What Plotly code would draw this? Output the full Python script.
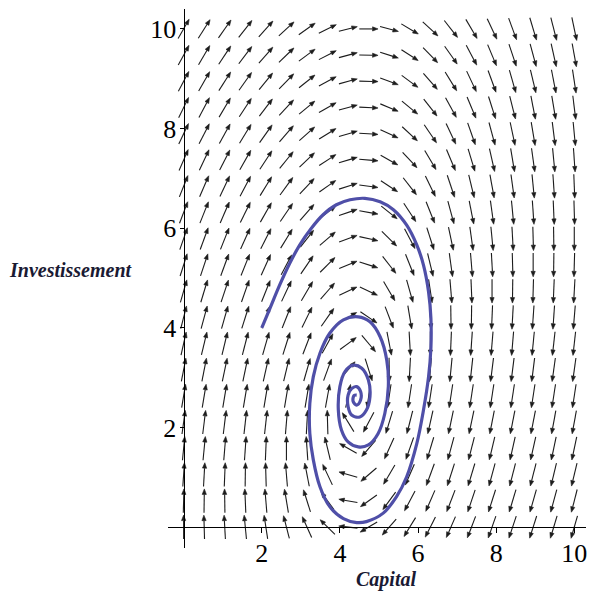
import numpy as np
import plotly.graph_objects as go

# grid of the direction field (Maple DEplot, 20 x 20 arrows)
capital_grid = [round(i * 10 / 19, 4) for i in range(20)]
invest_grid = [round(j * 10 / 19, 4) for j in range(20)]

# arrow directions in degrees, one row per Investissement level (bottom row first)
arrow_angles = [
    [90, 92, 94, 97, 101, 108, 120, 142, 175, 205, 222, 232, 237, 241, 244, 246, 247, 248, 249, 250],
    [88, 89, 91, 93, 96, 102, 112, 133, 172, 209, 227, 236, 241, 244, 247, 248, 249, 250, 251, 252],
    [85, 86, 87, 89, 92, 96, 104, 121, 167, 214, 233, 241, 245, 248, 249, 251, 252, 252, 253, 253],
    [83, 83, 84, 85, 87, 90, 95, 107, 156, 222, 240, 246, 249, 251, 252, 253, 254, 254, 255, 255],
    [80, 81, 81, 82, 82, 84, 86, 92, 128, 236, 249, 252, 254, 255, 255, 256, 256, 256, 257, 257],
    [78, 78, 78, 78, 78, 78, 78, 77, 75, 260, 259, 259, 259, 259, 259, 259, 259, 259, 259, 259],
    [76, 76, 75, 75, 74, 73, 70, 65, 42, 292, 271, 266, 264, 263, 262, 261, 261, 261, 260, 260],
    [74, 73, 73, 72, 70, 68, 64, 55, 30, 317, 284, 274, 270, 267, 265, 264, 264, 263, 262, 262],
    [72, 71, 70, 68, 66, 63, 58, 48, 24, 332, 296, 282, 275, 271, 269, 267, 266, 265, 265, 264],
    [70, 69, 67, 66, 63, 59, 53, 42, 20, 340, 307, 290, 281, 276, 273, 270, 269, 268, 267, 266],
    [68, 67, 65, 63, 60, 56, 49, 38, 18, 346, 315, 297, 287, 280, 276, 274, 272, 270, 269, 268],
    [66, 65, 63, 60, 57, 52, 45, 34, 16, 350, 322, 304, 292, 285, 280, 277, 274, 272, 271, 270],
    [64, 63, 61, 58, 54, 49, 42, 31, 15, 352, 328, 310, 297, 289, 284, 280, 277, 275, 273, 272],
    [63, 61, 59, 56, 52, 47, 40, 29, 14, 354, 333, 315, 302, 293, 287, 283, 280, 277, 275, 273],
    [61, 59, 57, 54, 50, 44, 37, 27, 13, 356, 336, 320, 307, 298, 291, 286, 282, 280, 277, 275],
    [59, 57, 55, 52, 48, 42, 35, 26, 13, 357, 340, 324, 311, 301, 294, 289, 285, 282, 279, 277],
    [58, 56, 53, 50, 46, 40, 33, 24, 12, 358, 342, 327, 315, 305, 298, 292, 288, 284, 282, 279],
    [56, 54, 51, 48, 44, 39, 32, 23, 12, 359, 344, 330, 318, 308, 301, 295, 290, 287, 284, 281],
    [55, 53, 50, 46, 42, 37, 30, 22, 12, 359, 346, 333, 321, 312, 304, 298, 293, 289, 286, 283],
    [54, 51, 48, 45, 41, 36, 29, 21, 11, 0, 348, 335, 324, 315, 307, 301, 295, 291, 288, 285],
]

# trajectory starting at (2, 4)
traj_capital = [2.00, 2.21, 2.46, 2.72, 2.97, 3.27, 3.57, 3.91, 4.26, 4.64, 5.03, 5.37, 5.71, 5.97,
                6.14, 6.27, 6.33, 6.33, 6.27, 6.14, 5.97, 5.71, 5.45, 5.11, 4.68, 4.43, 4.09, 3.74,
                3.49, 3.32, 3.23, 3.23, 3.32, 3.49, 3.74, 4.09, 4.47, 4.77, 5.03, 5.20, 5.24, 5.15,
                4.98, 4.73, 4.47, 4.21, 4.04, 3.96, 4.00, 4.13, 4.34, 4.56, 4.73, 4.77, 4.68, 4.51,
                4.30, 4.21, 4.21, 4.30, 4.43, 4.53, 4.53, 4.43, 4.34, 4.36, 4.43]
traj_invest = [4.00, 4.39, 4.86, 5.30, 5.66, 6.00, 6.27, 6.47, 6.57, 6.60, 6.53, 6.37, 6.06, 5.66,
               5.26, 4.72, 4.19, 3.60, 3.02, 2.35, 1.68, 1.01, 0.61, 0.28, 0.11, 0.09, 0.17, 0.41,
               0.81, 1.35, 1.88, 2.48, 3.02, 3.49, 3.89, 4.16, 4.22, 4.12, 3.82, 3.35, 2.82, 2.28,
               1.88, 1.65, 1.61, 1.71, 1.95, 2.35, 2.82, 3.12, 3.25, 3.19, 2.95, 2.62, 2.35, 2.21,
               2.25, 2.42, 2.65, 2.78, 2.82, 2.72, 2.55, 2.45, 2.52, 2.64, 2.65]

xr = [-0.4, 10.3]
yr = [-0.42, 10.4]
W, H = 590, 594
ml, mr, mt, mb = 168, 4, 9, 46
sx = (W - ml - mr) / (xr[1] - xr[0])   # px per unit
sy = (H - mt - mb) / (yr[1] - yr[0])

L = 0.48          # arrow length, data units
hl, hw = 5.5, 2.1  # head length / half width in px

shaft_x, shaft_y, head_x, head_y = [], [], [], []
for j, yc in enumerate(invest_grid):
    for i, xc in enumerate(capital_grid):
        a = np.radians(arrow_angles[j][i])
        dx, dy = np.cos(a), np.sin(a)
        x0, y0 = xc - L / 2 * dx, yc - L / 2 * dy
        x1, y1 = xc + L / 2 * dx, yc + L / 2 * dy
        # screen-space unit direction
        px, py = dx * sx, dy * sy
        n = np.hypot(px, py)
        ux, uy = px / n, py / n
        bx, by = x1 - hl * ux / sx, y1 - hl * uy / sy
        shaft_x += [x0, bx, None]
        shaft_y += [y0, by, None]
        head_x += [x1, bx - hw * uy / sx, bx + hw * uy / sx, x1, None]
        head_y += [y1, by + hw * ux / sy, by - hw * ux / sy, y1, None]

fig = go.Figure()
fig.add_trace(go.Scatter(x=shaft_x, y=shaft_y, mode="lines", line=dict(color="#1c1c1c", width=1.1),
                         hoverinfo="skip"))
fig.add_trace(go.Scatter(x=head_x, y=head_y, mode="lines", fill="toself", fillcolor="#1c1c1c",
                         line=dict(color="#1c1c1c", width=0.6), hoverinfo="skip"))
fig.add_trace(go.Scatter(x=traj_capital, y=traj_invest, mode="lines",
                         line=dict(color="#4f4fa8", width=3.2, shape="spline", smoothing=1.0)))

serif = "Liberation Serif"
fig.update_layout(
    width=W, height=H, margin=dict(l=ml, r=mr, t=mt, b=mb, autoexpand=False),
    plot_bgcolor="white", paper_bgcolor="white", showlegend=False,
    font=dict(family=serif, color="black"),
)
fig.update_xaxes(range=xr, showgrid=False, zeroline=False, showline=True, linecolor="black", linewidth=1.2,
                 anchor="free", position=-yr[0] / (yr[1] - yr[0]), automargin=False,
                 tickvals=[2, 4, 6, 8, 10], ticks="outside", ticklen=5, tickcolor="black",
                 ticklabelstandoff=-2, tickfont=dict(size=26, family=serif))
fig.update_yaxes(range=yr, showgrid=False, zeroline=False, showline=True, linecolor="black", linewidth=1.2,
                 anchor="free", position=-xr[0] / (xr[1] - xr[0]), automargin=False,
                 tickvals=[2, 4, 6, 8, 10], ticks="outside", ticklen=4, tickcolor="black",
                 ticklabelstandoff=-2, tickfont=dict(size=26, family=serif))

fig.add_annotation(text="<b><i>Investissement</i></b>", xref="paper", yref="y", x=-0.385, y=5.16,
                   xanchor="left", yanchor="middle", showarrow=False,
                   font=dict(size=20, family=serif, color="#1a1a33"))
fig.add_annotation(text="<b><i>Capital</i></b>", xref="x", yref="paper", x=5.18, y=-0.058,
                   xanchor="center", yanchor="middle", showarrow=False,
                   font=dict(size=20, family=serif, color="#1a1a33"))

# drop the default page margin so the figure fills the window exactly
fig.write_html("out.html", config={"displayModeBar": False},
               post_script="document.body.style.margin='0';document.body.style.overflow='hidden';")
